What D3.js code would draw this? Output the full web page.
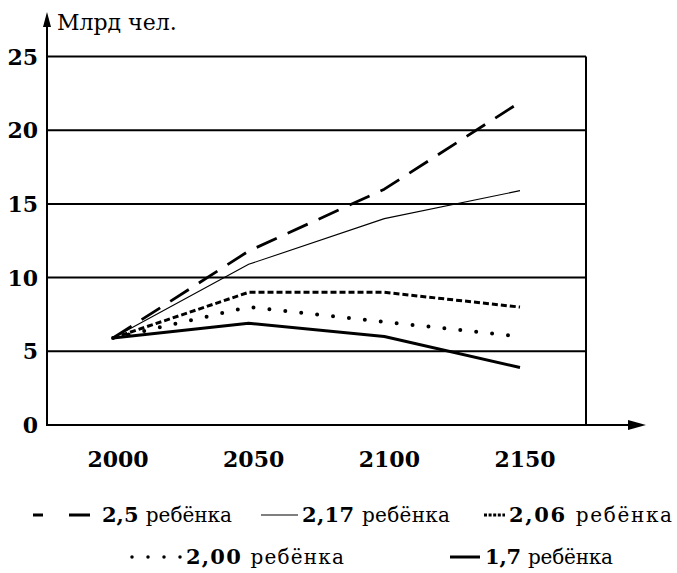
<!DOCTYPE html>
<html>
<head>
<meta charset="utf-8">
<script src="https://cdn.jsdelivr.net/npm/d3@7"></script>
<style>
  body { margin: 0; background: #fff; }
  svg { display: block; }
  text { font-family: "DejaVu Serif", "Liberation Serif", serif; fill: #000; }
</style>
</head>
<body>
<script>
/*global d3 */

// Data
var years = [2000, 2050, 2100, 2150];
var yTicks = [0, 5, 10, 15, 20, 25];
var seriesLabels = ["2,5", "2,17", "2,06", "2,00", "1,7"];
var s250 = [5.9, 11.8, 16.0, 21.9];
var s217 = [5.9, 10.9, 14.0, 15.9];
var s206 = [5.9, 9.0, 9.0, 8.0];
var s200 = [5.9, 8.0, 7.0, 6.0];
var s170 = [5.9, 6.9, 6.0, 3.9];
var seriesValues = [s250, s217, s206, s200, s170];

var width = 677,
    height = 573;

// Line styles, one per series
var styles = [
    { w: 2.8, dash: "22,12", cap: "butt" },
    { w: 1.1, dash: null, cap: "butt" },
    { w: 3, dash: "6,3", cap: "butt" },
    { w: 4, dash: "0,16", cap: "round" },
    { w: 3, dash: null, cap: "butt" }
];

// Legend layout: [symbol x0, symbol x1, text x, row y, text width]
var legendPos = [
    [33, 90, 102, 515, 130],
    [261, 298, 302, 515, 148],
    [484, 505, 509, 515, 163],
    [132, 181, 186, 557, 158],
    [450, 480, 485, 557, 128]
];
var legendDash = ["10,26,22", null, "3,1.6", "0,16", null];

var svg = d3.select("body")
    .append("svg")
    .attr("width", width)
    .attr("height", height);

var x = d3.scaleLinear().domain([2000, 2150]).range([113, 520]);
var y = d3.scaleLinear().domain([0, 25]).range([425, 56.5]);

var axisLeft = 47, frameRight = 586;

// horizontal grid lines
svg.selectAll(".grid")
    .data(yTicks.slice(1))
    .enter().append("line")
    .attr("class", "grid")
    .attr("x1", axisLeft).attr("x2", frameRight)
    .attr("y1", function(d) { return y(d); })
    .attr("y2", function(d) { return y(d); })
    .style("stroke", "#000")
    .style("stroke-width", 2);

// right border
svg.append("line")
    .attr("x1", frameRight).attr("x2", frameRight)
    .attr("y1", y(25)).attr("y2", y(0))
    .style("stroke", "#000").style("stroke-width", 2);

// y axis with arrow
svg.append("line")
    .attr("x1", axisLeft).attr("x2", axisLeft)
    .attr("y1", y(0) + 1).attr("y2", 24)
    .style("stroke", "#000").style("stroke-width", 2);
svg.append("path")
    .attr("d", "M" + axisLeft + ",12 L" + (axisLeft - 4) + ",27 L" + (axisLeft + 4) + ",27 Z")
    .style("fill", "#000");

// x axis with arrow
svg.append("line")
    .attr("x1", axisLeft - 1).attr("x2", 632)
    .attr("y1", y(0)).attr("y2", y(0))
    .style("stroke", "#000").style("stroke-width", 2);
svg.append("path")
    .attr("d", "M646," + y(0) + " L628," + (y(0) - 5) + " L628," + (y(0) + 5) + " Z")
    .style("fill", "#000");

// axis title
svg.append("text")
    .attr("x", 57).attr("y", 30)
    .style("font-size", "22px")
    .text("Млрд чел.");

// y tick labels
svg.selectAll(".ytick")
    .data(yTicks)
    .enter().append("text")
    .attr("class", "ytick")
    .attr("x", 38)
    .attr("y", function(d) { return y(d) + 8; })
    .attr("text-anchor", "end")
    .style("font-size", "22px")
    .style("font-weight", "bold")
    .text(function(d) { return d; });

// x tick labels
svg.selectAll(".xtick")
    .data(years)
    .enter().append("text")
    .attr("class", "xtick")
    .attr("x", function(d) { return x(d) + 5; })
    .attr("y", 467)
    .attr("text-anchor", "middle")
    .style("font-size", "22px")
    .style("font-weight", "bold")
    .text(function(d) { return d; });

// series lines
var line = d3.line()
    .x(function(d, i) { return x(years[i]); })
    .y(function(d) { return y(d); });

svg.selectAll(".series")
    .data(seriesValues)
    .enter().append("path")
    .attr("class", "series")
    .attr("d", line)
    .style("fill", "none")
    .style("stroke", "#000")
    .style("stroke-width", function(d, i) { return styles[i].w; })
    .style("stroke-dasharray", function(d, i) { return styles[i].dash; })
    .style("stroke-linecap", function(d, i) { return styles[i].cap; })
    .style("stroke-linejoin", "round");

// legend
var legend = svg.selectAll(".legend")
    .data(seriesLabels)
    .enter().append("g")
    .attr("class", "legend");

legend.append("line")
    .attr("x1", function(d, i) { return legendPos[i][0]; })
    .attr("x2", function(d, i) { return legendPos[i][1]; })
    .attr("y1", function(d, i) { return legendPos[i][3]; })
    .attr("y2", function(d, i) { return legendPos[i][3]; })
    .style("stroke", "#000")
    .style("stroke-width", function(d, i) { return i == 3 ? 3.5 : styles[i].w; })
    .style("stroke-dasharray", function(d, i) { return legendDash[i]; })
    .style("stroke-linecap", function(d, i) { return styles[i].cap; });

var lt = legend.append("text")
    .attr("x", function(d, i) { return legendPos[i][2]; })
    .attr("y", function(d, i) { return legendPos[i][3] + 7; })
    .attr("textLength", function(d, i) { return legendPos[i][4]; })
    .attr("lengthAdjust", "spacing");
lt.append("tspan")
    .style("font-size", "21px")
    .style("font-weight", "bold")
    .text(function(d) { return d + " "; });
lt.append("tspan")
    .style("font-size", "20px")
    .text("ребёнка");
</script>
</body>
</html>
